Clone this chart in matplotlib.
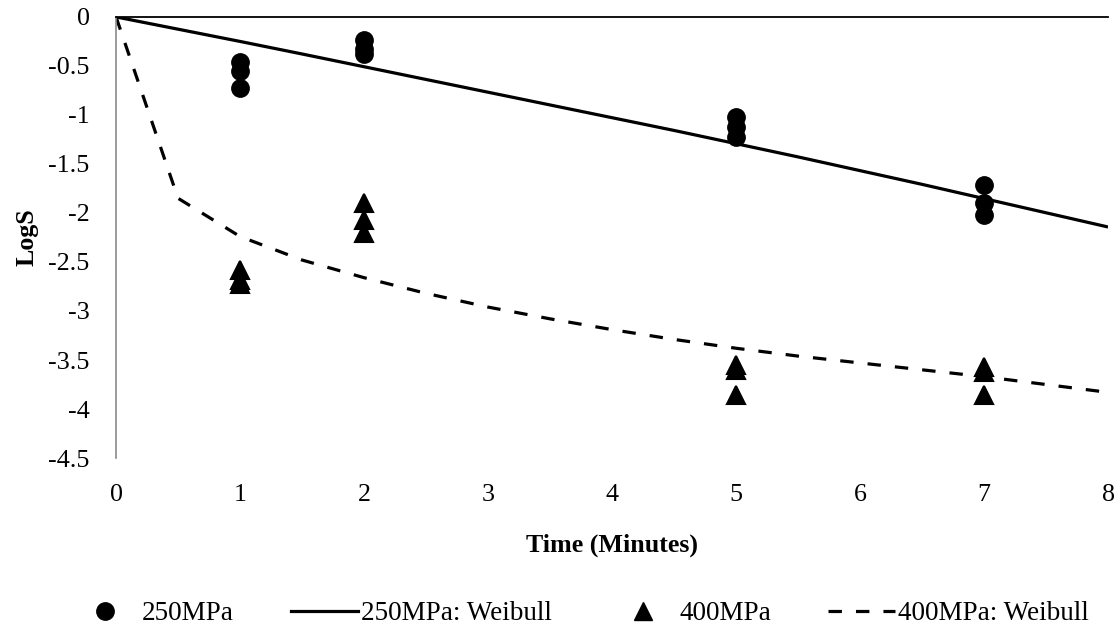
import matplotlib
matplotlib.use("Agg")
import matplotlib.pyplot as plt
from matplotlib.lines import Line2D

# Observed survival (log reduction) for each pressure, three replicates per time
t_250 = [1, 1, 1, 2, 2, 2, 5, 5, 5, 7, 7, 7]
logs_250 = [-0.46, -0.55, -0.72, -0.24, -0.33, -0.38, -1.02, -1.12, -1.23, -1.71, -1.90, -2.02]

t_400 = [1, 1, 1, 2, 2, 2, 5, 5, 5, 7, 7, 7]
logs_400 = [-2.58, -2.68, -2.72, -1.90, -2.07, -2.20, -3.55, -3.60, -3.86, -3.57, -3.62, -3.86]

# Weibull model curves
t_fit = [0, 0.5, 1, 1.5, 2, 2.5, 3, 3.5, 4, 4.5, 5, 5.5, 6, 6.5, 7, 7.5, 8]
fit_250 = [0, -0.125, -0.25, -0.378, -0.508, -0.638, -0.768, -0.898, -1.028, -1.158,
           -1.293, -1.428, -1.568, -1.708, -1.853, -1.998, -2.143]
fit_400 = [0, -1.85, -2.24, -2.48, -2.66, -2.82, -2.96, -3.08, -3.19, -3.29, -3.38,
           -3.46, -3.53, -3.60, -3.67, -3.75, -3.83]

x_ticks = [0, 1, 2, 3, 4, 5, 6, 7, 8]
y_ticks = [0, -0.5, -1, -1.5, -2, -2.5, -3, -3.5, -4, -4.5]

plt.rcParams["font.family"] = ["Liberation Serif", "DejaVu Serif"]
FS = 18.7

fig = plt.figure(figsize=(11.2, 6.27), dpi=100)
ax = fig.add_axes([0.1036, 0.2695, 0.8857, 0.7035])

dash = (0, (4.2, 4.4))
ax.plot(t_fit, fit_250, color="black", lw=2.3, solid_capstyle="butt", zorder=2)
ax.plot(t_fit, fit_400, color="black", lw=2.3, linestyle=dash,
        dash_capstyle="butt", zorder=2)
ax.plot(t_250, logs_250, linestyle="none", marker="o", ms=12.5, color="black",
        mec="black", mew=1, zorder=3)
ax.plot(t_400, logs_400, linestyle="none", marker="^", ms=13, color="black",
        mec="black", mew=1.5, zorder=3)

ax.set_xlim(0, 8)
ax.set_ylim(-4.5, 0)
ax.set_xticks(x_ticks)
ax.set_yticks(y_ticks)
ax.set_xticklabels([str(v) for v in x_ticks])
ax.set_yticklabels(["0" if v == 0 else f"{v:g}" for v in y_ticks])
ax.tick_params(axis="both", length=0, labelsize=FS)
ax.tick_params(axis="x", pad=18.5)
ax.tick_params(axis="y", pad=19)

for side in ["right", "bottom"]:
    ax.spines[side].set_visible(False)
ax.spines["left"].set_color("#8a8a8a")
ax.spines["left"].set_linewidth(1.2)
ax.spines["top"].set_color("black")
ax.spines["top"].set_linewidth(1.3)

ax.set_xlabel("Time (Minutes)", fontsize=FS, fontweight="bold", labelpad=20)
ax.set_ylabel("LogS", fontsize=FS, fontweight="bold", labelpad=7)

handles = [
    Line2D([], [], linestyle="none", marker="o", ms=12.5, color="black"),
    Line2D([], [], color="black", lw=2.3),
    Line2D([], [], linestyle="none", marker="^", ms=13, color="black"),
    Line2D([], [], color="black", lw=2.3, linestyle=dash),
]
labels = ["250MPa", "250MPa: Weibull", "400MPa", "400MPa: Weibull"]
fig.legend(handles, labels, loc="center", bbox_to_anchor=(0.518, 0.021), ncol=4,
           frameon=False, fontsize=19.5, handlelength=2.5, handletextpad=0.1,
           columnspacing=2.1, borderpad=0.0)

fig.savefig("out.png", dpi=100)
